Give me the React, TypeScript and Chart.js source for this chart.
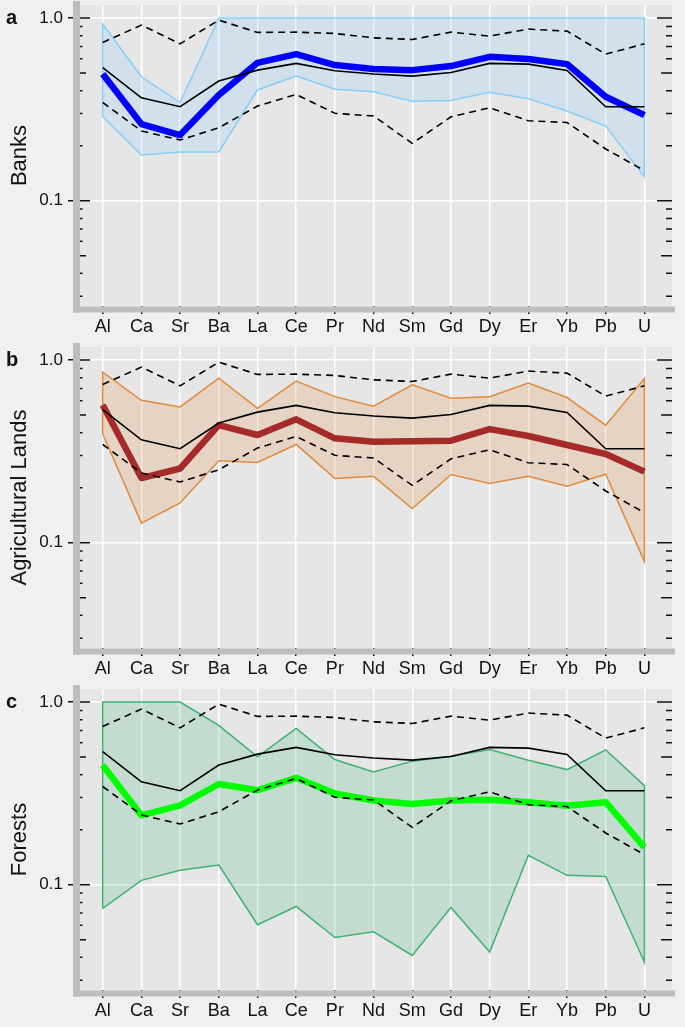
import React, { useEffect, useRef } from 'react';
import { Chart, registerables } from 'chart.js';

Chart.register(...registerables);

// ---------- data ----------
const ELEMENTS = ['Al', 'Ca', 'Sr', 'Ba', 'La', 'Ce', 'Pr', 'Nd', 'Sm', 'Gd', 'Dy', 'Er', 'Yb', 'Pb', 'U'];
const Y_TICKS = [0.1, 1.0];
const Y_TICK_LABELS = ['0.1', '1.0'];
const LOG_TICKS = [0.03, 0.04, 0.05, 0.06, 0.07, 0.08, 0.09, 0.1, 0.2, 0.3, 0.4, 0.5, 0.6, 0.7, 0.8, 0.9, 1.0];

const REF_MEDIAN = [0.535, 0.366, 0.327, 0.452, 0.519, 0.565, 0.515, 0.494, 0.481, 0.504, 0.565, 0.560, 0.517, 0.327, 0.327];
const REF_HIGH = [0.736, 0.916, 0.723, 0.975, 0.835, 0.838, 0.824, 0.780, 0.764, 0.838, 0.797, 0.871, 0.849, 0.635, 0.723];
const REF_LOW = [0.345, 0.241, 0.215, 0.251, 0.330, 0.382, 0.301, 0.291, 0.206, 0.288, 0.323, 0.274, 0.268, 0.192, 0.146];

const BANKS_MEDIAN = [0.494, 0.263, 0.229, 0.379, 0.569, 0.635, 0.553, 0.526, 0.519, 0.546, 0.614, 0.597, 0.560, 0.371, 0.294];
const BANKS_MAX = [0.927, 0.477, 0.345, 1.0, 1.0, 1.0, 1.0, 1.0, 1.0, 1.0, 1.0, 1.0, 1.0, 1.0, 1.0];
const BANKS_MIN = [0.288, 0.178, 0.185, 0.185, 0.404, 0.481, 0.408, 0.395, 0.351, 0.354, 0.392, 0.362, 0.310, 0.256, 0.135];

const AGRI_MEDIAN = [0.568, 0.226, 0.255, 0.441, 0.389, 0.474, 0.373, 0.357, 0.360, 0.362, 0.419, 0.384, 0.343, 0.306, 0.245];
const AGRI_MAX = [0.859, 0.603, 0.554, 0.796, 0.545, 0.767, 0.631, 0.559, 0.732, 0.618, 0.631, 0.748, 0.624, 0.440, 0.793];
const AGRI_MIN = [0.394, 0.128, 0.165, 0.281, 0.275, 0.345, 0.225, 0.231, 0.154, 0.236, 0.211, 0.231, 0.204, 0.237, 0.079];

const FOREST_MEDIAN = [0.451, 0.240, 0.272, 0.356, 0.329, 0.385, 0.316, 0.289, 0.277, 0.289, 0.292, 0.283, 0.271, 0.283, 0.160];
const FOREST_MAX = [1.0, 1.0, 1.0, 0.745, 0.501, 0.717, 0.485, 0.415, 0.475, 0.506, 0.550, 0.481, 0.427, 0.548, 0.349];
const FOREST_MIN = [0.0741, 0.1056, 0.120, 0.128, 0.0604, 0.0760, 0.0514, 0.0552, 0.0410, 0.0751, 0.0428, 0.145, 0.1125, 0.111, 0.0377];

// ---------- layout / style ----------
const FONT = '"Liberation Sans", Arial, Helvetica, sans-serif';
const X_MIN = -0.587;
const X_MAX = 14.713;
const Y_MIN = 0.0265;
const Y_MAX = 1.18;
const W = 685;
const AREA_TOP = 5;
const AREA_BOTTOM = 306;

type PanelDef = {
  letter: string;
  title: string;
  median: number[];
  max: number[];
  min: number[];
  medianColor: string;
  bandColor: string;
  bandFill: string;
  top: number;
  height: number;
};

const PANELS: PanelDef[] = [
  { letter: 'a', title: 'Banks', median: BANKS_MEDIAN, max: BANKS_MAX, min: BANKS_MIN, medianColor: '#0000FF', bandColor: '#87CEFA', bandFill: 'rgba(135,206,250,0.22)', top: 0, height: 342 },
  { letter: 'b', title: 'Agricultural Lands', median: AGRI_MEDIAN, max: AGRI_MAX, min: AGRI_MIN, medianColor: '#A52A2A', bandColor: '#E08B3C', bandFill: 'rgba(224,139,60,0.2)', top: 342, height: 342 },
  { letter: 'c', title: 'Forests', median: FOREST_MEDIAN, max: FOREST_MAX, min: FOREST_MIN, medianColor: '#00FF00', bandColor: '#3CB371', bandFill: 'rgba(60,179,113,0.2)', top: 684, height: 343 },
];

const xy = (arr: number[]) => arr.map((v, i) => ({ x: i, y: v }));

function polygon(max: number[], min: number[]) {
  const pts = min.map((v, i) => ({ x: i, y: v }));
  for (let i = max.length - 1; i >= 0; i--) pts.push({ x: i, y: max[i] });
  pts.push({ x: 0, y: min[0] });
  return pts;
}

function makeDecor(def: PanelDef) {
  return {
    id: 'decor',
    beforeDraw(chart: any) {
      const { ctx, chartArea: a } = chart;
      ctx.save();
      ctx.fillStyle = '#E6E6E6';
      ctx.fillRect(a.left, a.top, a.right - a.left, a.bottom - a.top);
      ctx.restore();
    },
    afterDraw(chart: any) {
      const { ctx, chartArea: a, scales } = chart;
      const y = scales.y;
      ctx.save();
      ctx.strokeStyle = '#111';
      ctx.lineWidth = 1.5;
      for (const v of LOG_TICKS) {
        const py = y.getPixelForValue(v);
        const major = v === 0.1 || v === 1.0;
        const mid = v === 0.05 || v === 0.5;
        const lLen = major ? 10 : mid ? 6 : 2.5;
        const rLen = major ? 15 : mid ? 11 : 6;
        ctx.beginPath();
        ctx.moveTo(a.left, py);
        ctx.lineTo(a.left + lLen, py);
        ctx.moveTo(a.right, py);
        ctx.lineTo(a.right - rLen, py);
        ctx.stroke();
      }
      ctx.fillStyle = '#BDBDBD';
      ctx.fillRect(a.left - 7, a.top - 4, 7, a.bottom + 6.5 - (a.top - 4));
      ctx.fillRect(a.left - 7, a.bottom + 0.5, a.right + 3 - (a.left - 7), 6);
      ctx.fillStyle = '#111';
      ctx.font = `bold 20px ${FONT}`;
      ctx.textAlign = 'left';
      ctx.textBaseline = 'alphabetic';
      ctx.fillText(def.letter, 6, y.getPixelForValue(1.0) + 6);
      ctx.restore();
    },
  };
}

function Panel({ def }: { def: PanelDef }) {
  const ref = useRef<HTMLCanvasElement>(null);
  useEffect(() => {
    const canvas = ref.current!;
    const chart = new Chart(canvas, {
      type: 'line',
      data: {
        datasets: [
          { data: xy(REF_HIGH), borderColor: '#000', borderWidth: 1.6, borderDash: [7, 5], fill: false },
          { data: xy(REF_LOW), borderColor: '#000', borderWidth: 1.6, borderDash: [7, 5], fill: false },
          { data: xy(REF_MEDIAN), borderColor: '#000', borderWidth: 1.6, fill: false },
          { data: xy(def.median), borderColor: def.medianColor, borderWidth: 6.5, fill: false, borderJoinStyle: 'round' },
          { data: polygon(def.max, def.min), borderColor: def.bandColor, backgroundColor: def.bandFill, borderWidth: 1.5, fill: 'shape' },
        ] as any,
      },
      options: {
        responsive: false,
        animation: false,
        devicePixelRatio: 1,
        layout: { padding: { top: AREA_TOP, right: W - 672, left: 0, bottom: 0 } },
        plugins: { legend: { display: false }, tooltip: { enabled: false } },
        elements: { point: { radius: 0 }, line: { tension: 0 } },
        scales: {
          x: {
            type: 'linear',
            min: X_MIN,
            max: X_MAX,
            afterBuildTicks: (s: any) => {
              s.ticks = ELEMENTS.map((_, i) => ({ value: i }));
            },
            afterFit: (s: any) => {
              s.height = def.height - AREA_BOTTOM;
              s.paddingLeft = 0;
              s.paddingRight = 0;
            },
            ticks: {
              autoSkip: false,
              maxRotation: 0,
              padding: 2,
              color: '#111',
              font: { family: FONT, size: 18 },
              callback: (v: any) => ELEMENTS[Math.round(Number(v))] ?? '',
            },
            grid: { color: '#FFFFFF', lineWidth: 1.5, tickColor: '#111', tickLength: 8, drawTicks: true },
            border: { display: false },
          },
          y: {
            type: 'logarithmic',
            min: Y_MIN,
            max: Y_MAX,
            afterBuildTicks: (s: any) => {
              s.ticks = Y_TICKS.map((v) => ({ value: v }));
            },
            afterFit: (s: any) => {
              s.width = 80;
              s.paddingTop = 0;
              s.paddingBottom = 0;
            },
            ticks: {
              padding: 5,
              color: '#111',
              font: { family: FONT, size: 17 },
              callback: (v: any) => Y_TICK_LABELS[Y_TICKS.indexOf(Number(v))] ?? '',
            },
            title: {
              display: true,
              text: def.title,
              color: '#111',
              font: { family: FONT, size: 22 },
              padding: { top: 7, bottom: 0 },
            },
            grid: { color: '#FFFFFF', lineWidth: 1.5, tickColor: '#111', tickLength: 12, drawTicks: true },
            border: { display: false },
          },
        },
      } as any,
      plugins: [makeDecor(def)],
    });
    return () => chart.destroy();
  }, [def]);
  return (
    <canvas
      ref={ref}
      width={W}
      height={def.height}
      style={{ position: 'absolute', left: 0, top: def.top, width: W, height: def.height, display: 'block' }}
    />
  );
}

export default function App() {
  return (
    <div style={{ position: 'absolute', left: 0, top: 0, width: W, height: 1027, background: '#F0F0F0', overflow: 'hidden' }}>
      {PANELS.map((p) => (
        <Panel key={p.letter} def={p} />
      ))}
    </div>
  );
}
